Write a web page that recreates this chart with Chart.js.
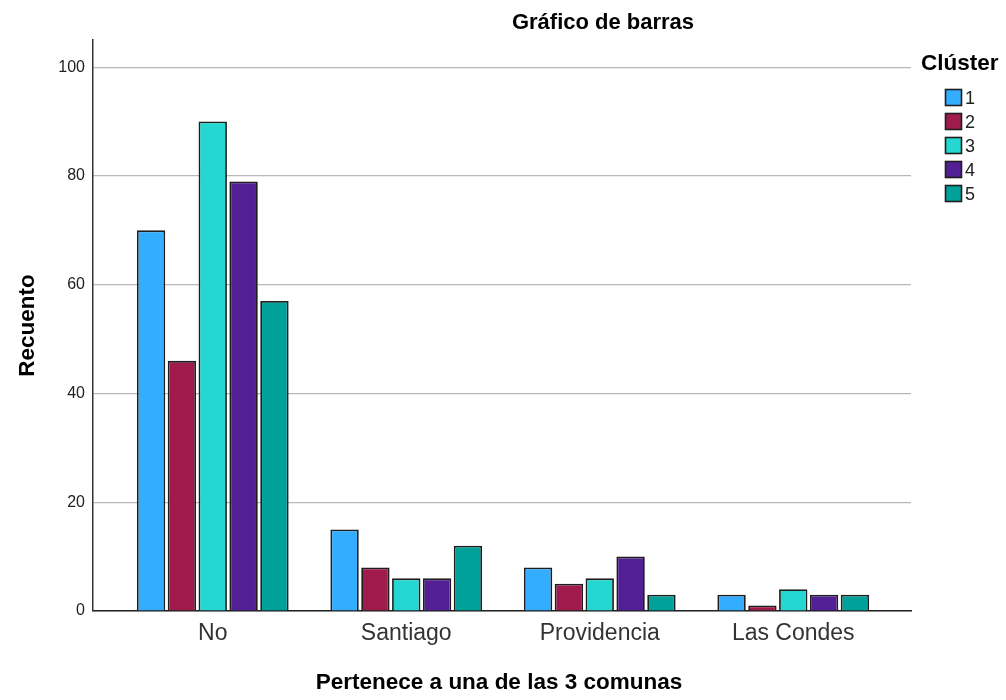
<!DOCTYPE html>
<html>
<head>
<meta charset="utf-8">
<script src="https://cdn.jsdelivr.net/npm/chart.js@4"></script>
<style>
  html, body { margin: 0; padding: 0; background: #fff; }
  #wrap { width: 1006px; height: 700px; position: relative; }
</style>
</head>
<body>
<div id="wrap"><canvas id="barChart"></canvas></div>
<script>
// comunas en el eje X
var comunas = ['No', 'Santiago', 'Providencia', 'Las Condes'];
// recuento por clúster
var cluster1 = [70, 15, 8, 3];
var cluster2 = [46, 8, 5, 1];
var cluster3 = [90, 6, 6, 4];
var cluster4 = [79, 6, 10, 3];
var cluster5 = [57, 12, 3, 3];
var clusterNames = ['1', '2', '3', '4', '5'];
var clusterColors = ['#33adff', '#a01a4c', '#24d7d1', '#521f95', '#00a09b'];
var yTicks = [0, 20, 40, 60, 80, 100];

var FONT = '"Liberation Sans", Arial, sans-serif';
var series = [cluster1, cluster2, cluster3, cluster4, cluster5];

var datasets = series.map(function (d, i) {
  return {
    label: clusterNames[i],
    data: d,
    backgroundColor: clusterColors[i],
    borderColor: '#1e1e1e',
    borderWidth: 1.8,
    borderSkipped: 'bottom',
    categoryPercentage: 0.797,
    barPercentage: 0.92
  };
});

// margen interno del eje X (las categorías no llegan a los bordes)
var xInset = { left: 23, right: 21 };
var insetPlugin = {
  id: 'xInset',
  afterLayout: function (chart) {
    var s = chart.scales.x;
    s._startPixel = s.left + xInset.left;
    s._endPixel = s.right - xInset.right;
    s._length = s._endPixel - s._startPixel;
  }
};

// títulos y leyenda dibujados a mano
var textPlugin = {
  id: 'textos',
  afterDraw: function (chart) {
    var ctx = chart.ctx;
    var area = chart.chartArea;
    ctx.save();
    ctx.fillStyle = '#000';
    ctx.textBaseline = 'middle';

    ctx.font = 'bold 22px ' + FONT;
    ctx.textAlign = 'center';
    ctx.fillText('Gráfico de barras', 603, 23);

    ctx.font = 'bold 22.5px ' + FONT;
    ctx.fillText('Pertenece a una de las 3 comunas', 499, 683);

    ctx.save();
    ctx.translate(28, (area.top + area.bottom) / 2);
    ctx.rotate(-Math.PI / 2);
    ctx.fillText('Recuento', 0, 0);
    ctx.restore();

    // leyenda
    ctx.textAlign = 'left';
    ctx.font = 'bold 22.5px ' + FONT;
    ctx.fillText('Clúster', 921, 64);
    ctx.font = '18px ' + FONT;
    ctx.lineWidth = 1.6;
    clusterNames.forEach(function (n, i) {
      var y = 89 + i * 24;
      ctx.fillStyle = clusterColors[i];
      ctx.fillRect(945, y, 17, 17);
      ctx.strokeStyle = '#1e1e1e';
      ctx.strokeRect(945.5, y + 0.5, 16, 16);
      ctx.fillStyle = '#222';
      ctx.fillText(n, 965, y + 10);
    });
    ctx.restore();
  }
};

new Chart(document.getElementById('barChart'), {
  type: 'bar',
  data: { labels: comunas, datasets: datasets },
  options: {
    responsive: true,
    maintainAspectRatio: false,
    animation: false,
    devicePixelRatio: 1,
    layout: { padding: { left: 0, top: 40, right: 95, bottom: 0 } },
    plugins: {
      legend: { display: false },
      title: { display: false },
      tooltip: { enabled: false }
    },
    scales: {
      x: {
        grid: { display: false, drawTicks: false },
        border: { color: '#222', width: 1.5 },
        ticks: {
          color: '#333',
          font: { family: FONT, size: 23 },
          padding: 9
        },
        afterFit: function (s) { s.height = 89; }
      },
      y: {
        min: 0,
        max: 105,
        afterBuildTicks: function (s) {
          s.ticks = yTicks.map(function (v) { return { value: v }; });
        },
        grid: { color: '#b8b8b8', lineWidth: 1.2, drawTicks: false },
        border: { color: '#333', width: 1.5 },
        ticks: {
          color: '#222',
          font: { family: FONT, size: 16 },
          padding: 8
        },
        afterFit: function (s) { s.width = 93; }
      }
    }
  },
  plugins: [insetPlugin, textPlugin]
});
</script>
</body>
</html>
